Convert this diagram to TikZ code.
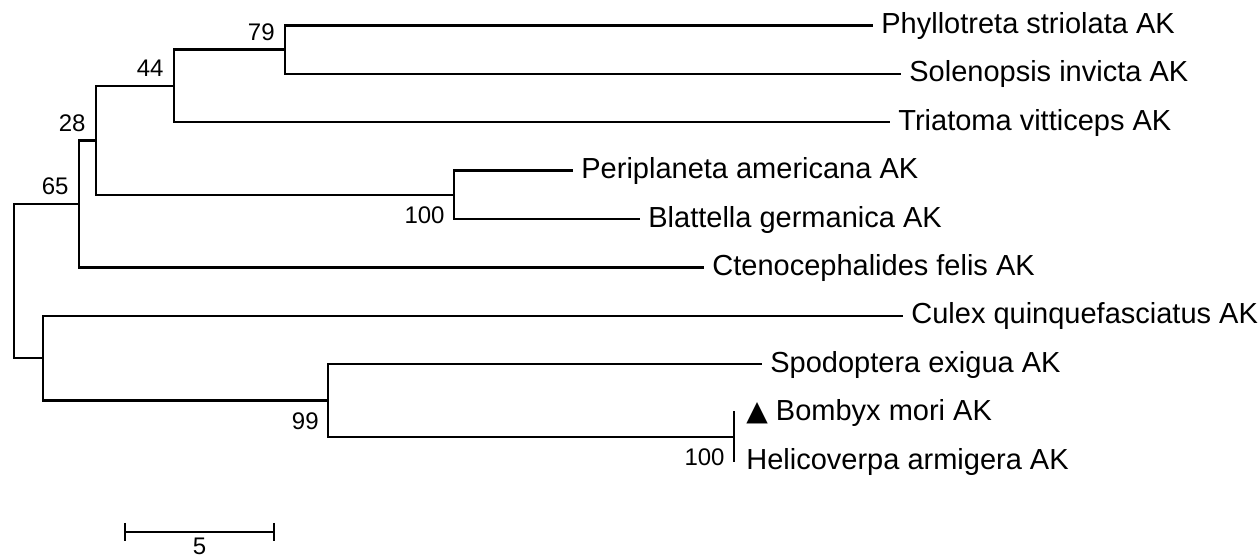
\documentclass[tikz,border=0pt]{standalone}
\usepackage{fontspec}
\setmainfont{Liberation Sans}
\newfontfamily\symfnt{DejaVu Sans}
\begin{document}
\begin{tikzpicture}[x=0.5pt,y=-0.5pt,
  br/.style={line width=1.2pt, black, line cap=rect},
  tiplab/.style={anchor=base west, inner sep=0pt, xshift=4.5pt, yshift=-4pt, font=\fontsize{14.5}{17}\selectfont},
  bsa/.style={anchor=base east, inner sep=0pt, xshift=-5pt, yshift=4.5pt, font=\fontsize{12}{14}\selectfont},
  bsb/.style={anchor=base east, inner sep=0pt, xshift=-4.5pt, yshift=-14.5pt, font=\fontsize{12}{14}\selectfont}]
\useasboundingbox (0,0) rectangle (1260,560);
% internal nodes
\coordinate (root) at (14,281);
\coordinate (n65) at (79,204);
\coordinate (n28) at (96,140.5);
\coordinate (n44) at (174,86);
\coordinate (n79) at (285,49.7);
\coordinate (nP) at (454,194.9);
\coordinate (nC) at (43,358.3);
\coordinate (n99) at (328,400.6);
\coordinate (nB) at (734,436.9);
% tips
\coordinate (t1) at (872,25.5);
\coordinate (t2) at (900,73.9);
\coordinate (t3) at (889,122.3);
\coordinate (t4) at (572,170.7);
\coordinate (t5) at (639,219.1);
\coordinate (t6) at (703,267.5);
\coordinate (t7) at (902,315.9);
\coordinate (t8) at (761,364.3);
\coordinate (t9) at (734,412.7);
\coordinate (t10) at (734,461.1);
% branches
\draw[br] (root) |- (n65);
\draw[br] (root) |- (nC);
\draw[br] (n65) |- (n28);
\draw[br] (n65) |- (t6);
\draw[br] (n28) |- (n44);
\draw[br] (n28) |- (nP);
\draw[br] (n44) |- (n79);
\draw[br] (n44) |- (t3);
\draw[br] (n79) |- (t1);
\draw[br] (n79) |- (t2);
\draw[br] (nP) |- (t4);
\draw[br] (nP) |- (t5);
\draw[br] (nC) |- (t7);
\draw[br] (nC) |- (n99);
\draw[br] (n99) |- (t8);
\draw[br] (n99) |- (nB);
\draw[br] (nB) |- (t9);
\draw[br] (nB) |- (t10);
% tip labels
\node[tiplab] (l1) at (t1) {Phyllotreta striolata AK};
\node[tiplab] (l2) at (t2) {Solenopsis invicta AK};
\node[tiplab] (l3) at (t3) {Triatoma vitticeps AK};
\node[tiplab] (l4) at (t4) {Periplaneta americana AK};
\node[tiplab] (l5) at (t5) {Blattella germanica AK};
\node[tiplab] (l6) at (t6) {Ctenocephalides felis AK};
\node[tiplab] (l7) at (t7) {Culex quinquefasciatus AK};
\node[tiplab] (l8) at (t8) {Spodoptera exigua AK};
\node[tiplab, xshift=1.5pt] (l9) at (t9) {{\symfnt\fontsize{14}{17}\selectfont ▲} Bombyx mori AK};
\node[tiplab, xshift=1.5pt] (l10) at (t10) {Helicoverpa armigera AK};
% bootstrap values
\node[bsa] (b79) at (n79) {79};
\node[bsa] (b44) at (n44) {44};
\node[bsa] (b28) at (n28) {28};
\node[bsa] (b65) at (n65) {65};
\node[bsb] (bP) at (nP) {100};
\node[bsb] (b99) at (n99) {99};
\node[bsb] (bB) at (nB) {100};
% scale bar
\coordinate (sL) at (125,532);
\coordinate (sR) at (274,532);
\coordinate (sM) at (199.5,532);
\draw[br, line cap=butt] (sL) -- (sR);
\draw[br, line cap=butt] ([yshift=4.5pt]sL) -- ([yshift=-4.5pt]sL);
\draw[br, line cap=butt] ([yshift=4.5pt]sR) -- ([yshift=-4.5pt]sR);
\node[anchor=base, inner sep=0pt, yshift=-11.5pt, font=\fontsize{12}{14}\selectfont] (s5) at (sM) {5};
\end{tikzpicture}
\end{document}
